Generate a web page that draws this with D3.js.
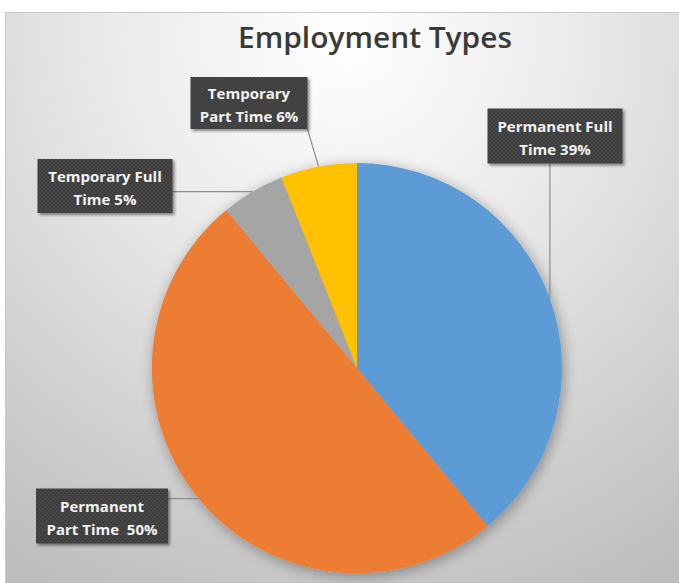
<!DOCTYPE html>
<html>
<head>
<meta charset="utf-8">
<script src="https://cdn.jsdelivr.net/npm/d3@7"></script>
<style>
  html, body { margin: 0; padding: 0; background: #fff; }
  svg { display: block; }
</style>
</head>
<body>
<div id="chart"></div>
<script>
const categories = ["Permanent Full Time", "Permanent Part Time", "Temporary Full Time", "Temporary Part Time"];
const values = [39, 50, 5, 6];
const labelLines = [
    ["Permanent Full", "Time 39%"],
    ["Permanent", "Part Time  50%"],
    ["Temporary Full", "Time 5%"],
    ["Temporary", "Part Time 6%"]
];
const colors = ["#5b9bd5", "#ed7d31", "#a5a5a5", "#ffc000"];

// label box layout (centre, width, height)
const boxes = [
    { cx: 555, cy: 136, w: 135, h: 55 },
    { cx: 102, cy: 516, w: 132, h: 55 },
    { cx: 105, cy: 186, w: 135, h: 54 },
    { cx: 249, cy: 103, w: 117, h: 52 }
];

const width = 679, height = 583;
const cx = 357, cy = 368, radius = 205;

const svg = d3.select("#chart")
    .append("svg")
    .attr("width", width)
    .attr("height", height);

const defs = svg.append("defs");

const bg = defs.append("radialGradient")
    .attr("id", "bg")
    .attr("gradientUnits", "userSpaceOnUse")
    .attr("cx", 345).attr("cy", 40).attr("r", 620);
bg.append("stop").attr("offset", "0%").attr("stop-color", "#ffffff");
bg.append("stop").attr("offset", "35%").attr("stop-color", "#ececec");
bg.append("stop").attr("offset", "100%").attr("stop-color", "#bdbdbd");

const pieShadow = defs.append("filter").attr("id", "pieShadow")
    .attr("x", "-20%").attr("y", "-20%").attr("width", "140%").attr("height", "140%");
pieShadow.append("feDropShadow")
    .attr("dx", 2).attr("dy", 3).attr("stdDeviation", 7)
    .attr("flood-color", "#000").attr("flood-opacity", 0.35);

const boxShadow = defs.append("filter").attr("id", "boxShadow")
    .attr("x", "-10%").attr("y", "-20%").attr("width", "130%").attr("height", "150%");
boxShadow.append("feDropShadow")
    .attr("dx", 2).attr("dy", 2).attr("stdDeviation", 1.5)
    .attr("flood-color", "#000").attr("flood-opacity", 0.45);

const checker = defs.append("pattern").attr("id", "checker")
    .attr("patternUnits", "userSpaceOnUse").attr("width", 4).attr("height", 4);
checker.append("rect").attr("width", 4).attr("height", 4).attr("fill", "#3d3d3d");
checker.append("rect").attr("width", 2).attr("height", 2).attr("fill", "#464646");
checker.append("rect").attr("x", 2).attr("y", 2).attr("width", 2).attr("height", 2).attr("fill", "#464646");

// chart area
svg.append("rect")
    .attr("x", 5.5).attr("y", 12.5)
    .attr("width", 690).attr("height", 580)
    .attr("fill", "url(#bg)")
    .attr("stroke", "#c9c9c9");

svg.append("text")
    .attr("x", 375).attr("y", 48)
    .attr("text-anchor", "middle")
    .attr("font-family", "'Open Sans', sans-serif")
    .attr("font-weight", 600)
    .attr("font-size", 28)
    .attr("fill", "#3a3a3a")
    .attr("textLength", 274)
    .attr("lengthAdjust", "spacingAndGlyphs")
    .text("Employment Types");

const color = d3.scaleOrdinal().domain(categories).range(colors);

const pie = d3.pie().sort(null).value(d => d.value);
const data = categories.map((c, i) => ({ name: c, value: values[i], lines: labelLines[i], box: boxes[i] }));
const arcs = pie(data);

const arc = d3.arc().innerRadius(0).outerRadius(radius);
const edgeArc = d3.arc().innerRadius(radius).outerRadius(radius);

const g = svg.append("g").attr("transform", `translate(${cx},${cy})`);

g.append("g")
    .attr("filter", "url(#pieShadow)")
    .selectAll("path")
    .data(arcs)
    .join("path")
    .attr("d", arc)
    .attr("fill", d => color(d.data.name));

// leader lines: from nearest point of the box to the slice edge
const leaders = svg.append("g");
arcs.forEach(d => {
    const p = edgeArc.centroid(d);
    const ex = p[0] + cx, ey = p[1] + cy;
    const b = d.data.box;
    const x0 = b.cx - b.w / 2, x1 = b.cx + b.w / 2, y0 = b.cy - b.h / 2, y1 = b.cy + b.h / 2;
    const sx = Math.max(x0, Math.min(x1, ex));
    const sy = Math.max(y0, Math.min(y1, ey));
    leaders.append("line")
        .attr("x1", sx).attr("y1", sy)
        .attr("x2", ex).attr("y2", ey)
        .attr("stroke", "#8c8c8c")
        .attr("stroke-width", 1.2);
});

const labels = svg.append("g")
    .selectAll("g")
    .data(arcs)
    .join("g")
    .attr("transform", d => `translate(${d.data.box.cx},${d.data.box.cy})`);

labels.append("rect")
    .attr("x", d => -d.data.box.w / 2)
    .attr("y", d => -d.data.box.h / 2)
    .attr("width", d => d.data.box.w)
    .attr("height", d => d.data.box.h)
    .attr("fill", "url(#checker)")
    .attr("filter", "url(#boxShadow)");

labels.each(function (d) {
    const t = d3.select(this).append("text")
        .attr("text-anchor", "middle")
        .attr("font-family", "'Open Sans', sans-serif")
        .attr("font-weight", 700)
        .attr("font-size", 15)
        .attr("fill", "#f2f2f2");
    d.data.lines.forEach((line, i) => {
        t.append("tspan")
            .attr("x", 0)
            .attr("y", -4.5 + i * 23)
            .attr("xml:space", "preserve")
            .style("white-space", "pre")
            .text(line);
    });
});
</script>
</body>
</html>
